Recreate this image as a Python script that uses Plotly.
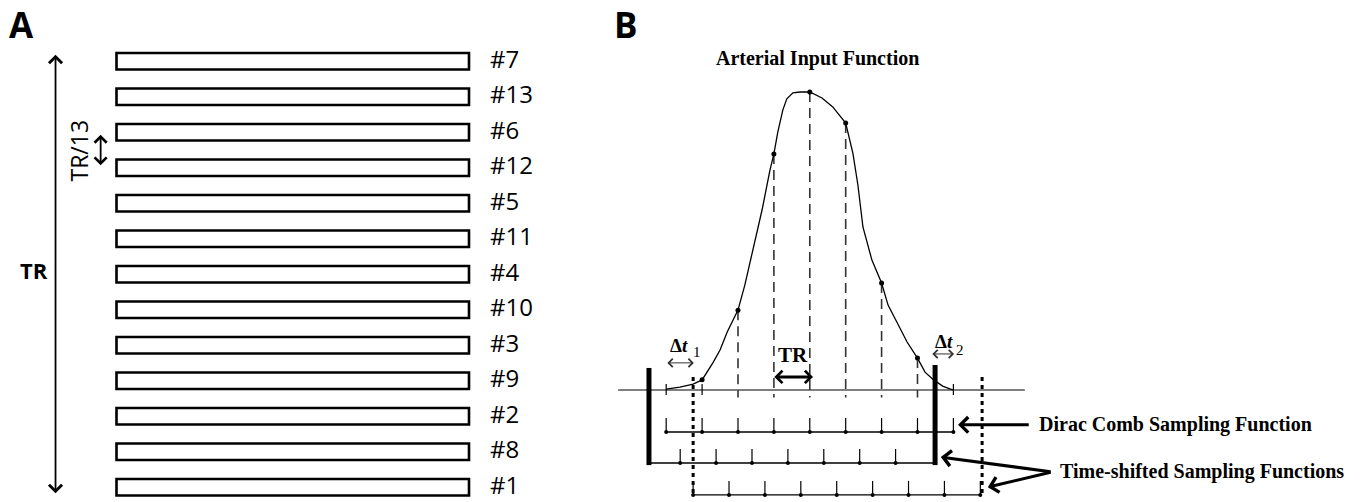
import plotly.graph_objects as go

# ---------------- Panel A data: interleaved slice acquisition order ----------------
slice_order = [7, 13, 6, 12, 5, 11, 4, 10, 3, 9, 2, 8, 1]   # top to bottom
slot_index = list(range(len(slice_order)))
slice_extent = [1.0] * len(slice_order)

# ---------------- Panel B data (time in units of TR, AIF normalised) ----------------
aif_t = [0.0, 0.38, 0.75, 1.0, 1.30, 1.50, 1.70, 2.0, 2.19, 2.39, 2.67, 2.89, 3.0, 3.11,
         3.25, 3.36, 3.53, 3.73, 4.0, 4.34, 4.64, 5.0, 5.20, 5.34, 5.48, 5.73, 6.0, 6.18,
         6.43, 6.71, 7.0, 7.21, 7.45, 7.70, 7.92, 8.0]
aif_v = [0.003, 0.01, 0.02, 0.034, 0.091, 0.134, 0.195, 0.268, 0.352, 0.46, 0.604, 0.738,
         0.792, 0.866, 0.94, 0.977, 0.997, 1.0, 1.0, 0.98, 0.95, 0.896, 0.795, 0.688, 0.547,
         0.436, 0.359, 0.285, 0.225, 0.161, 0.107, 0.06, 0.034, 0.013, 0.003, 0.0]
sample_t = [0, 1, 2, 3, 4, 5, 6, 7, 8]
sample_v = [0.003, 0.034, 0.268, 0.792, 1.0, 0.896, 0.359, 0.107, 0.0]

comb_t = [0, 1, 2, 3, 4, 5, 6, 7, 8]                       # Dirac comb
shift1_t = [0.39, 1.39, 2.39, 3.39, 4.39, 5.39, 6.39]      # time-shifted #1
shift2_t = [0.75, 1.75, 2.75, 3.75, 4.75, 5.75, 6.75, 7.75, 8.75]  # time-shifted #2
window1 = [-0.48, 7.49]     # thick bars
window2 = [0.75, 8.80]      # dotted bars
row_level = [0.0, -0.141, -0.245, -0.352]
baseline_span = [-1.34, 9.99]
tick_h = 0.047

fig = go.Figure()

# ---------- Panel A ----------
fig.add_trace(go.Bar(orientation='h', y=slot_index, x=slice_extent, base=0, width=0.465,
                     marker=dict(color='white', line=dict(color='black', width=2.6)),
                     xaxis='x', yaxis='y', hoverinfo='skip'))

ann = []
for s, lab in zip(slot_index, slice_order):
    ann.append(dict(x=1.054, y=s, xref='x', yref='y', text=f"#{lab}", showarrow=False,
                    xanchor='left', yanchor='middle', yshift=3,
                    font=dict(family='Open Sans', size=24, color='black')))
# big TR arrow
ann.append(dict(x=-0.173, y=12.17, ax=-0.173, ay=-0.225, xref='x', yref='y', axref='x', ayref='y',
                text='', showarrow=True, arrowside='end+start', arrowhead=4, arrowwidth=1.8,
                arrowsize=1.4, arrowcolor='black'))
ann.append(dict(x=-0.233, y=5.89, xref='x', yref='y', text='<b>TR</b>', showarrow=False,
                font=dict(family='Open Sans', size=22, color='black')))
# TR/13
ann.append(dict(x=-0.105, y=2.5, xref='x', yref='y', text='TR/13', showarrow=False, textangle=-90,
                font=dict(family='Open Sans', size=23, color='black')))
ann.append(dict(x=-0.045, y=2.93, ax=-0.045, ay=2.03, xref='x', yref='y', axref='x', ayref='y',
                text='', showarrow=True, arrowside='end+start', arrowhead=4, arrowwidth=1.8,
                arrowsize=1.3, arrowcolor='black'))
# panel letters
ann.append(dict(x=21 / 1361, y=1 - 25 / 502, xref='paper', yref='paper', text='<b>A</b>', showarrow=False,
                xanchor='center', yanchor='middle',
                font=dict(family='Open Sans', size=35, color='black')))
ann.append(dict(x=626 / 1361, y=1 - 25 / 502, xref='paper', yref='paper', text='<b>B</b>', showarrow=False,
                xanchor='center', yanchor='middle',
                font=dict(family='Open Sans', size=35, color='black')))

# ---------- Panel B ----------
# baseline
fig.add_trace(go.Scatter(x=baseline_span, y=[0, 0], mode='lines', line=dict(color='black', width=1.2),
                         xaxis='x2', yaxis='y2', hoverinfo='skip'))
# dashed sample lines
dx, dy = [], []
for t, v in zip(sample_t, sample_v):
    if 2 <= t <= 7:
        dx += [t, t, None]
        dy += [v, -0.025, None]
fig.add_trace(go.Scatter(x=dx, y=dy, mode='lines', line=dict(color='#333', width=1.6, dash='10px,6px'),
                         xaxis='x2', yaxis='y2', hoverinfo='skip'))
# small ticks on baseline at other samples
bx, by = [], []
for t in sample_t:
    if t < 2 or t > 7:
        bx += [t, t, None]
        by += [0.02, -0.017, None]
fig.add_trace(go.Scatter(x=bx, y=by, mode='lines', line=dict(color='black', width=1.2),
                         xaxis='x2', yaxis='y2', hoverinfo='skip'))
# AIF curve
fig.add_trace(go.Scatter(x=aif_t, y=aif_v, mode='lines', line=dict(color='black', width=1.3),
                         xaxis='x2', yaxis='y2', hoverinfo='skip'))
fig.add_trace(go.Scatter(x=sample_t[1:8], y=sample_v[1:8], mode='markers',
                         marker=dict(color='black', size=5), xaxis='x2', yaxis='y2', hoverinfo='skip'))

# sampling rows
def comb_row(times, level, span):
    fig.add_trace(go.Scatter(x=span, y=[level, level], mode='lines', line=dict(color='black', width=1.3),
                             xaxis='x2', yaxis='y2', hoverinfo='skip'))
    tx, ty = [], []
    for t in times:
        tx += [t, t, None]
        ty += [level + tick_h, level, None]
    fig.add_trace(go.Scatter(x=tx, y=ty, mode='lines', line=dict(color='black', width=1.2),
                             xaxis='x2', yaxis='y2', hoverinfo='skip'))
    fig.add_trace(go.Scatter(x=times, y=[level] * len(times), mode='markers',
                             marker=dict(color='black', size=4), xaxis='x2', yaxis='y2', hoverinfo='skip'))

comb_row(comb_t, row_level[1], [comb_t[0], comb_t[-1]])
comb_row(shift1_t, row_level[2], window1)
comb_row(shift2_t, row_level[3], [shift2_t[0], shift2_t[-1]])

# thick window bars
for t, top in zip(window1, [0.074, 0.084]):
    fig.add_trace(go.Scatter(x=[t, t], y=[top, row_level[2] - 0.007], mode='lines',
                             line=dict(color='black', width=5), xaxis='x2', yaxis='y2', hoverinfo='skip'))
# dotted window bars
for t in window2:
    fig.add_trace(go.Scatter(x=[t, t], y=[0.044, row_level[3] - 0.007], mode='lines',
                             line=dict(color='black', width=3, dash='4px,4px'),
                             xaxis='x2', yaxis='y2', hoverinfo='skip'))

serif = 'Liberation Serif'
ann.append(dict(x=4.22, y=1.111, xref='x2', yref='y2', text='<b>Arterial Input Function</b>', showarrow=False,
                font=dict(family=serif, size=20, color='black')))
ann.append(dict(x=3.53, y=0.117, xref='x2', yref='y2', text='<b>TR</b>', showarrow=False,
                font=dict(family=serif, size=21, color='black')))
ann.append(dict(x=4.09, y=0.044, ax=2.97, ay=0.044, xref='x2', yref='y2', axref='x2', ayref='y2',
                text='', showarrow=True, arrowside='end+start', arrowhead=4, arrowwidth=3,
                arrowsize=0.8, arrowcolor='black'))
# delta t labels (symbol + subscript)
for (cx, cy), (sx, sy), sub in [((0.36, 0.151), (0.86, 0.128), '1'), ((7.74, 0.164), (8.18, 0.134), '2')]:
    ann.append(dict(x=cx, y=cy, xref='x2', yref='y2', text='<b>Δ<i>t</i></b>', showarrow=False,
                    font=dict(family=serif, size=19, color='black')))
    ann.append(dict(x=sx, y=sy, xref='x2', yref='y2', text=sub, showarrow=False,
                    font=dict(family=serif, size=15, color='black')))
ann.append(dict(x=0.77, y=0.091, ax=-0.01, ay=0.091, xref='x2', yref='y2', axref='x2', ayref='y2',
                text='', showarrow=True, arrowside='end+start', arrowhead=4, arrowwidth=1,
                arrowsize=1.6, arrowcolor='#333'))
ann.append(dict(x=8.02, y=0.121, ax=7.37, ay=0.121, xref='x2', yref='y2', axref='x2', ayref='y2',
                text='', showarrow=True, arrowside='end+start', arrowhead=4, arrowwidth=1,
                arrowsize=1.6, arrowcolor='#333'))
# labels with pointers
ann.append(dict(x=10.33, y=-0.117, xref='x2', yref='y2', text='<b>Dirac Comb Sampling Function</b>',
                showarrow=False, xanchor='left', font=dict(family=serif, size=20, color='black')))
ann.append(dict(x=8.13, y=-0.117, ax=10.14, ay=-0.117, xref='x2', yref='y2', axref='x2', ayref='y2',
                text='', showarrow=True, arrowhead=4, arrowwidth=3, arrowsize=1, arrowcolor='black'))
ann.append(dict(x=10.91, y=-0.275, xref='x2', yref='y2', text='<b>Time-shifted Sampling Functions</b>',
                showarrow=False, xanchor='left', font=dict(family=serif, size=20, color='black')))
for hx, hy in [(7.65, -0.225), (8.96, -0.326)]:
    ann.append(dict(x=hx, y=hy, ax=10.75, ay=-0.275, xref='x2', yref='y2', axref='x2', ayref='y2',
                    text='', showarrow=True, arrowhead=4, arrowwidth=3, arrowsize=1, arrowcolor='black'))

fig.update_layout(
    width=1361, height=502, margin=dict(l=0, r=0, t=0, b=0),
    paper_bgcolor='white', plot_bgcolor='rgba(0,0,0,0)', showlegend=False,
    xaxis=dict(domain=[0, 1], range=[-116.5 / 352.5, 1244.5 / 352.5], visible=False),
    yaxis=dict(domain=[0, 1], range=[12.4155, -1.7254], visible=False),
    xaxis2=dict(domain=[0, 1], range=[-18.557, 19.354], anchor='y2', visible=False),
    yaxis2=dict(domain=[0, 1], range=[-0.37584, 1.30872], anchor='x2', visible=False),
    annotations=ann,
)

fig.write_html("out.html", config={'displayModeBar': False})
